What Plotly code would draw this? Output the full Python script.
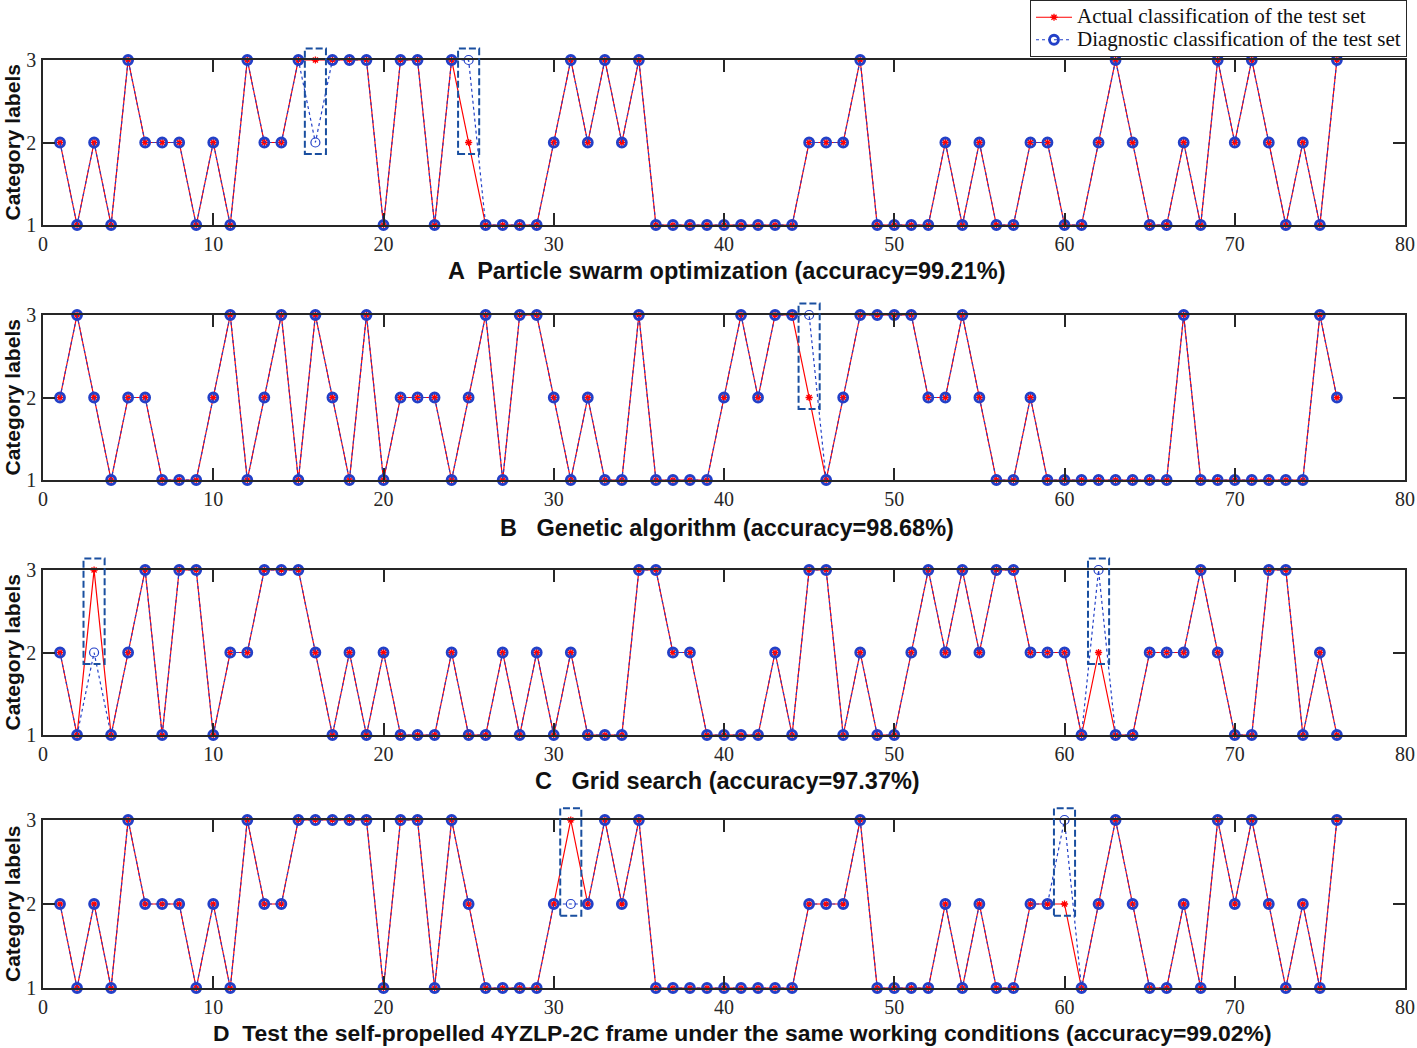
import plotly.graph_objects as go

# sample index of the test set
sample_no = list(range(1, 77))

# --- A: particle swarm optimization ---
actual_a = [2, 1, 2, 1, 3, 2, 2, 2, 1, 2,
            1, 3, 2, 2, 3, 3, 3, 3, 3, 1,
            3, 3, 1, 3, 2, 1, 1, 1, 1, 2,
            3, 2, 3, 2, 3, 1, 1, 1, 1, 1,
            1, 1, 1, 1, 2, 2, 2, 3, 1, 1,
            1, 1, 2, 1, 2, 1, 1, 2, 2, 1,
            1, 2, 3, 2, 1, 1, 2, 1, 3, 2,
            3, 2, 1, 2, 1, 3]
diag_a = [2, 1, 2, 1, 3, 2, 2, 2, 1, 2,
          1, 3, 2, 2, 3, 2, 3, 3, 3, 1,
          3, 3, 1, 3, 3, 1, 1, 1, 1, 2,
          3, 2, 3, 2, 3, 1, 1, 1, 1, 1,
          1, 1, 1, 1, 2, 2, 2, 3, 1, 1,
          1, 1, 2, 1, 2, 1, 1, 2, 2, 1,
          1, 2, 3, 2, 1, 1, 2, 1, 3, 2,
          3, 2, 1, 2, 1, 3]

# --- B: genetic algorithm ---
actual_b = [2, 3, 2, 1, 2, 2, 1, 1, 1, 2,
            3, 1, 2, 3, 1, 3, 2, 1, 3, 1,
            2, 2, 2, 1, 2, 3, 1, 3, 3, 2,
            1, 2, 1, 1, 3, 1, 1, 1, 1, 2,
            3, 2, 3, 3, 2, 1, 2, 3, 3, 3,
            3, 2, 2, 3, 2, 1, 1, 2, 1, 1,
            1, 1, 1, 1, 1, 1, 3, 1, 1, 1,
            1, 1, 1, 1, 3, 2]
diag_b = [2, 3, 2, 1, 2, 2, 1, 1, 1, 2,
          3, 1, 2, 3, 1, 3, 2, 1, 3, 1,
          2, 2, 2, 1, 2, 3, 1, 3, 3, 2,
          1, 2, 1, 1, 3, 1, 1, 1, 1, 2,
          3, 2, 3, 3, 3, 1, 2, 3, 3, 3,
          3, 2, 2, 3, 2, 1, 1, 2, 1, 1,
          1, 1, 1, 1, 1, 1, 3, 1, 1, 1,
          1, 1, 1, 1, 3, 2]

# --- C: grid search ---
actual_c = [2, 1, 3, 1, 2, 3, 1, 3, 3, 1,
            2, 2, 3, 3, 3, 2, 1, 2, 1, 2,
            1, 1, 1, 2, 1, 1, 2, 1, 2, 1,
            2, 1, 1, 1, 3, 3, 2, 2, 1, 1,
            1, 1, 2, 1, 3, 3, 1, 2, 1, 1,
            2, 3, 2, 3, 2, 3, 3, 2, 2, 2,
            1, 2, 1, 1, 2, 2, 2, 3, 2, 1,
            1, 3, 3, 1, 2, 1]
diag_c = [2, 1, 2, 1, 2, 3, 1, 3, 3, 1,
          2, 2, 3, 3, 3, 2, 1, 2, 1, 2,
          1, 1, 1, 2, 1, 1, 2, 1, 2, 1,
          2, 1, 1, 1, 3, 3, 2, 2, 1, 1,
          1, 1, 2, 1, 3, 3, 1, 2, 1, 1,
          2, 3, 2, 3, 2, 3, 3, 2, 2, 2,
          1, 3, 1, 1, 2, 2, 2, 3, 2, 1,
          1, 3, 3, 1, 2, 1]

# --- D: self-propelled 4YZLP-2C frame ---
actual_d = [2, 1, 2, 1, 3, 2, 2, 2, 1, 2,
            1, 3, 2, 2, 3, 3, 3, 3, 3, 1,
            3, 3, 1, 3, 2, 1, 1, 1, 1, 2,
            3, 2, 3, 2, 3, 1, 1, 1, 1, 1,
            1, 1, 1, 1, 2, 2, 2, 3, 1, 1,
            1, 1, 2, 1, 2, 1, 1, 2, 2, 2,
            1, 2, 3, 2, 1, 1, 2, 1, 3, 2,
            3, 2, 1, 2, 1, 3]
diag_d = [2, 1, 2, 1, 3, 2, 2, 2, 1, 2,
          1, 3, 2, 2, 3, 3, 3, 3, 3, 1,
          3, 3, 1, 3, 2, 1, 1, 1, 1, 2,
          2, 2, 3, 2, 3, 1, 1, 1, 1, 1,
          1, 1, 1, 1, 2, 2, 2, 3, 1, 1,
          1, 1, 2, 1, 2, 1, 1, 2, 2, 3,
          1, 2, 3, 2, 1, 1, 2, 1, 3, 2,
          3, 2, 1, 2, 1, 3]

panel_letters = ["A", "B", "C", "D"]
panel_titles = ["Particle swarm optimization (accuracy=99.21%)",
                "Genetic algorithm (accuracy=98.68%)",
                "Grid search (accuracy=97.37%)",
                "Test the self-propelled 4YZLP-2C frame under the same working conditions (accuracy=99.02%)"]
title_gaps = ["  ", "   ", "   ", "  "]

panels = [(actual_a, diag_a), (actual_b, diag_b), (actual_c, diag_c), (actual_d, diag_d)]

W, H = 1417, 1048
ML, MR = 43, 12
PW = W - ML - MR
# pixel rows of each plot box (top, bottom) and title line
rows_px = [(60, 225, 271), (315, 480, 528), (570, 735, 781), (820, 988, 1033)]
title_cx = [726, 727, 727, 742]
title_size = [23.5, 23.5, 23.5, 22.9]

RED = "#ff0000"
BLUE = "#2340c8"
BOX = "#1a4fa0"
SERIF = "Liberation Serif, Times New Roman, serif"
SANS = "Liberation Sans, Arial, sans-serif"


def legend_label(txt):
    # bigger glyphs than the legend font, so the rows stay as tight as in the original
    return '<span style="font-size:21px">' + txt + "</span>"


fig = go.Figure()
shapes = []
annotations = []

for k, (act, dia) in enumerate(panels):
    ax = "" if k == 0 else str(k + 1)
    matched = [a == d for a, d in zip(act, dia)]

    fig.add_trace(go.Scatter(
        x=sample_no, y=act, mode="lines+markers",
        name=legend_label("Actual classification of the test set"),
        line=dict(color=RED, width=1.2),
        marker=dict(symbol="asterisk-open", size=6, color=RED, line=dict(color=RED, width=1.3)),
        cliponaxis=False, showlegend=(k == 0), legendgroup="act",
        xaxis="x" + ax, yaxis="y" + ax
    ))
    fig.add_trace(go.Scatter(
        x=sample_no, y=dia, mode="lines+markers",
        name=legend_label("Diagnostic classification of the test set"),
        line=dict(color=BLUE, width=1.2, dash="dot"),
        marker=dict(symbol="circle-open", size=9, color=BLUE,
                    line=dict(color=BLUE, width=[2.8 if m else 1.2 for m in matched])),
        cliponaxis=False, showlegend=(k == 0), legendgroup="dia",
        xaxis="x" + ax, yaxis="y" + ax
    ))

    # dashed boxes around misclassified samples
    for s, a, d in zip(sample_no, act, dia):
        if a != d:
            lo, hi = min(a, d), max(a, d)
            shapes.append(dict(
                type="rect", xref="x" + ax + " domain", yref="y" + ax + " domain",
                x0=(s - 0.62) / 80, x1=(s + 0.62) / 80,
                y0=(lo - 0.14 - 1) / 2, y1=(hi + 0.14 - 1) / 2,
                line=dict(color=BOX, width=2, dash="7px,3px"), layer="above"
            ))

    top, bot, ty = rows_px[k]
    dom = [1 - bot / H, 1 - top / H]
    axis_common = dict(
        showline=True, linecolor="#262626", linewidth=1.5, mirror="ticks",
        ticks="inside", ticklen=12, tickwidth=1.5, tickcolor="#262626",
        showgrid=False, zeroline=False,
        tickfont=dict(family=SERIF, size=20, color="#262626")
    )
    fig.update_layout({
        "xaxis" + ax: dict(axis_common, domain=[0, 1], range=[0, 80], dtick=10,
                           anchor="y" + ax, ticklabelstandoff=0),
        "yaxis" + ax: dict(axis_common, domain=dom, range=[1, 3], dtick=1,
                           anchor="x" + ax, ticklabelstandoff=1),
    })

    annotations.append(dict(
        text="<b>Category labels</b>", textangle=-90, showarrow=False,
        xref="paper", yref="paper", x=(12 - ML) / PW, y=(dom[0] + dom[1]) / 2,
        xanchor="center", yanchor="middle",
        font=dict(family=SANS, size=21, color="#111111")
    ))
    annotations.append(dict(
        text="<b>" + panel_letters[k] + title_gaps[k] + panel_titles[k] + "</b>",
        showarrow=False, xref="paper", yref="paper",
        x=(title_cx[k] - ML) / PW, y=1 - ty / H, xanchor="center", yanchor="middle",
        font=dict(family=SANS, size=title_size[k], color="#111111")
    ))

fig.update_layout(
    width=W, height=H,
    margin=dict(l=ML, r=MR, t=0, b=0, pad=0, autoexpand=False),
    paper_bgcolor="white", plot_bgcolor="white",
    shapes=shapes, annotations=annotations,
    legend=dict(
        x=(1407 - ML) / PW, y=1.0, xanchor="right", yanchor="top",
        bgcolor="white", bordercolor="#262626", borderwidth=1,
        font=dict(family=SERIF, size=15, color="#111111"),
        tracegroupgap=0, itemwidth=36
    ),
)

# drop the browser's default page margin so the figure sits at the top-left corner
fig.write_html("out.html", config={"displayModeBar": False},
               post_script="document.body.style.margin='0px';")
